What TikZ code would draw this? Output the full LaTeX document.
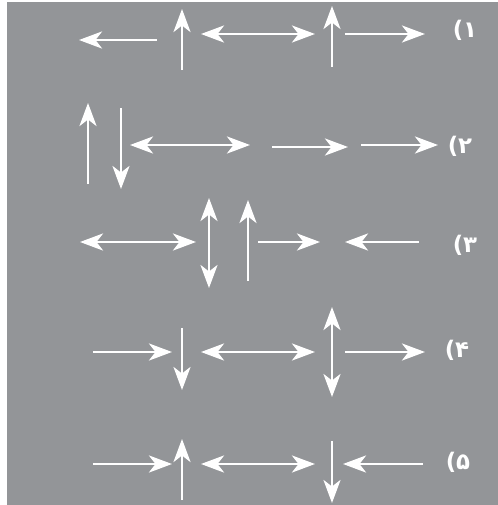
\documentclass[tikz,border=0pt]{standalone}
\usepackage{fontspec}
\usetikzlibrary{arrows.meta}
\newfontfamily\arabicfont[Script=Arabic]{DejaVu Sans}
\TeXXeTstate=1
\definecolor{PanelGray}{RGB}{147,149,152}

\begin{document}
\begin{tikzpicture}[x=0.02cm, y=-0.02cm]
\tikzset{
  arr/.style={-{Stealth[length=0.46cm, width=0.34cm, inset=0.13cm]}, line width=0.058cm, white},
  dbl/.style={{Stealth[length=0.46cm, width=0.34cm, inset=0.13cm]}-{Stealth[length=0.46cm, width=0.34cm, inset=0.13cm]}, line width=0.058cm, white},
  num/.style={text=white, font=\arabicfont\bfseries\fontsize{13}{15}\selectfont, inner sep=0pt}
}
  \useasboundingbox (0,0) rectangle (498,505);
  \fill[PanelGray] (7,2) rectangle (498,505);
  % row 1
  \draw[arr] (157,40) -- (79,40);
  \draw[arr] (182,70) -- (182,9);
  \draw[dbl] (201,34) -- (315,34);
  \draw[arr] (332,67) -- (332,6);
  \draw[arr] (345,34) -- (425,34);
  \node[num] (n1) at (465,30) {\beginR ۱)\endR};
  % row 2
  \draw[arr] (88,184) -- (88,103);
  \draw[arr] (121,108) -- (121,189);
  \draw[dbl] (130,145) -- (250,145);
  \draw[arr] (272,147) -- (348,147);
  \draw[arr] (361,145) -- (438,145);
  \node[num] (n2) at (460,146) {\beginR ۲)\endR};
  % row 3
  \draw[dbl] (80,242) -- (196,242);
  \draw[dbl] (209,198) -- (209,288);
  \draw[arr] (248,281) -- (248,200);
  \draw[arr] (258,242) -- (320,242);
  \draw[arr] (419,242) -- (345,242);
  \node[num] (n3) at (465,245) {\beginR ۳)\endR};
  % row 4
  \draw[arr] (93,352) -- (172,352);
  \draw[arr] (182,328) -- (182,390);
  \draw[dbl] (201,352) -- (315,352);
  \draw[dbl] (332,307) -- (332,397);
  \draw[arr] (345,352) -- (425,352);
  \node[num] (n4) at (457,350) {\beginR ۴)\endR};
  % row 5
  \draw[arr] (93,464) -- (172,464);
  \draw[arr] (182,500) -- (182,439);
  \draw[dbl] (201,464) -- (315,464);
  \draw[arr] (332,441) -- (332,503);
  \draw[arr] (423,464) -- (343,464);
  \node[num] (n5) at (458,462) {\beginR ۵)\endR};
\end{tikzpicture}
\end{document}
